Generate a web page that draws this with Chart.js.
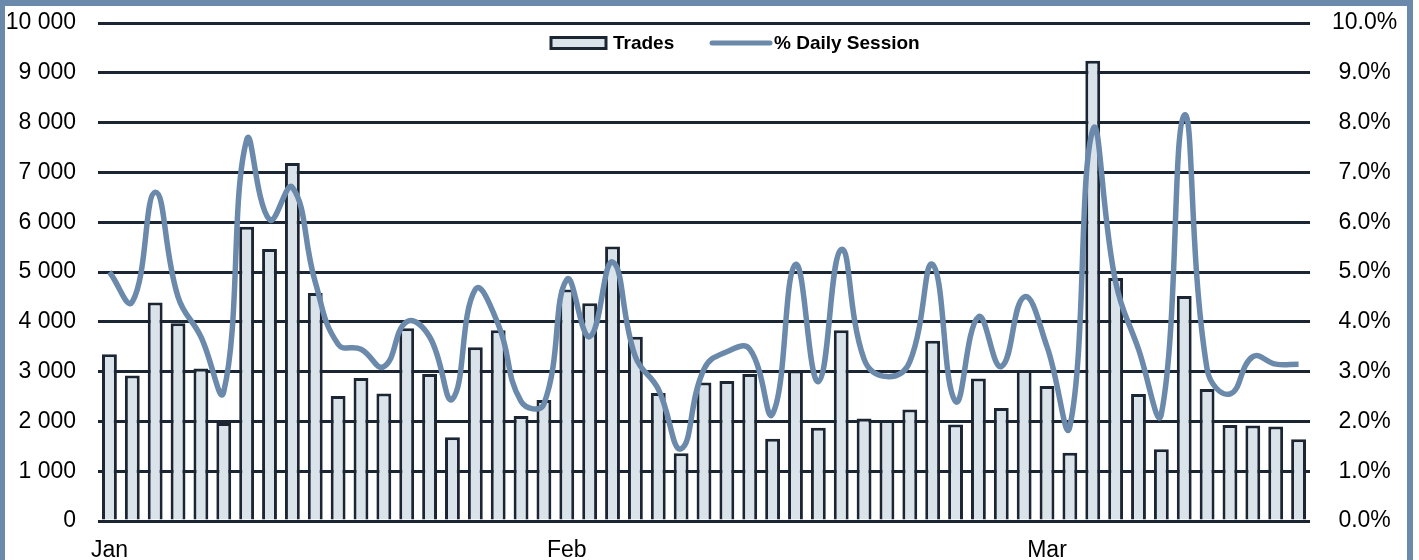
<!DOCTYPE html>
<html>
<head>
<meta charset="utf-8">
<script src="https://cdn.jsdelivr.net/npm/chart.js@4.4.0/dist/chart.umd.min.js"></script>
<style>
  html, body { margin: 0; padding: 0; background: #fff; }
  .frame {
    width: 1402px; height: 554px;
    border-left: 5px solid #6a89ab;
    border-top: 6px solid #6a89ab;
    border-right: 6px solid #6a89ab;
  }
  canvas { display: block; }
</style>
</head>
<body>
<div class="frame"><canvas id="myChart" width="1402" height="554"></canvas></div>
<script>
// trading days, Jan - Mar
const months = ['Jan', 'Feb', 'Mar'];
const monthStart = [0, 20, 41];

const trades = [3350, 2920, 4390, 3970, 3060, 1970, 5910, 5460, 7190, 4580,
                2510, 2870, 2560, 3870, 2950, 1680, 3490, 3830, 2110, 2430,
                4650, 4370, 5510, 3700, 2570, 1360, 2780, 2810, 2950, 1650,
                3020, 1870, 3830, 2060, 2030, 2240, 3620, 1940, 2860, 2270,
                3030, 2710, 1370, 9240, 4880, 2550, 1440, 4520, 2650, 1930,
                1920, 1900, 1640];

const dailySession = [5.0, 4.4, 6.6, 4.5, 3.7, 2.6, 7.65, 6.05, 6.7, 4.8,
                      3.55, 3.45, 3.1, 4.0, 3.7, 2.45, 4.65, 3.95, 2.4, 2.35,
                      4.85, 3.7, 5.2, 3.3, 2.65, 1.45, 3.05, 3.4, 3.45, 2.15,
                      5.15, 2.8, 5.45, 3.25, 2.9, 3.2, 5.15, 2.4, 4.1, 3.1,
                      4.5, 3.5, 1.9, 7.85, 4.8, 3.45, 2.15, 8.15, 3.05, 2.55,
                      3.3, 3.15, 3.15];

const labels = trades.map((v, i) => {
    const m = monthStart.indexOf(i);
    return m >= 0 ? months[m] : '';
});

const dark = '#1b2632';
const lineColor = '#6a89ab';
const barFill = '#dbe3ea';
const fontFamily = '"Liberation Sans", Arial, sans-serif';

const legendPlugin = {
    id: 'legendInside',
    afterDraw(chart) {
        const ctx = chart.ctx;
        const a = chart.chartArea;
        const y = a.top + 20;
        ctx.save();
        // Trades
        const bx = a.left + 453;
        ctx.fillStyle = barFill;
        ctx.strokeStyle = dark;
        ctx.lineWidth = 3;
        ctx.fillRect(bx, y - 5.5, 55, 11);
        ctx.strokeRect(bx, y - 5.5, 55, 11);
        ctx.fillStyle = '#000';
        ctx.font = 'bold 19px ' + fontFamily;
        ctx.textBaseline = 'middle';
        ctx.fillText('Trades', bx + 62, y + 1);
        // % Daily Session
        const lx = a.left + 614;
        ctx.strokeStyle = lineColor;
        ctx.lineWidth = 5;
        ctx.lineCap = 'round';
        ctx.beginPath();
        ctx.moveTo(lx, y);
        ctx.lineTo(lx + 58, y);
        ctx.stroke();
        ctx.fillText('% Daily Session', lx + 62, y + 1);
        ctx.restore();
    }
};

// tick padding also pads the top of vertical axes - drop that
const noVPad = axis => { axis.paddingTop = 0; axis.paddingBottom = 0; };

const ctx = document.getElementById('myChart').getContext('2d');
const myChart = new Chart(ctx, {
    data: {
        labels: labels,
        datasets: [{
            type: 'line',
            label: '% Daily Session',
            data: dailySession,
            yAxisID: 'y2',
            borderColor: lineColor,
            borderWidth: 5.5,
            pointRadius: 0,
            tension: 0.45,
            order: 0
        }, {
            type: 'bar',
            label: 'Trades',
            data: trades,
            yAxisID: 'y',
            backgroundColor: barFill,
            borderColor: dark,
            borderWidth: 3,
            categoryPercentage: 1,
            barPercentage: 0.65,
            order: 1
        }]
    },
    options: {
        responsive: false,
        animation: false,
        devicePixelRatio: 1,
        layout: { padding: { top: 17, left: 0, right: 0, bottom: 0 } },
        plugins: { legend: { display: false }, tooltip: { enabled: false } },
        scales: {
            x: {
                grid: { display: false },
                border: { display: false },
                ticks: {
                    autoSkip: false,
                    maxRotation: 0,
                    padding: 8,
                    color: '#000',
                    font: { family: fontFamily, size: 23 }
                },
                afterFit(axis) { axis.height = 39; }
            },
            y: {
                position: 'left',
                min: 0, max: 10000,
                ticks: {
                    stepSize: 1000,
                    padding: 22,
                    color: '#000',
                    font: { family: fontFamily, size: 23 },
                    callback: v => String(v).replace(/\B(?=(\d{3})+(?!\d))/g, ' ')
                },
                grid: { color: dark, lineWidth: 3, drawTicks: false },
                border: { display: false },
                afterFit(axis) { axis.width = 93; noVPad(axis); }
            },
            y2: {
                position: 'right',
                min: 0, max: 10,
                ticks: {
                    stepSize: 1,
                    padding: 22,
                    crossAlign: 'center',
                    color: '#000',
                    font: { family: fontFamily, size: 23 },
                    callback: v => v.toFixed(1) + '%'
                },
                grid: { display: false, drawTicks: false },
                border: { display: false },
                afterFit(axis) { axis.width = 97; noVPad(axis); }
            }
        }
    },
    plugins: [legendPlugin]
});
</script>
</body>
</html>
